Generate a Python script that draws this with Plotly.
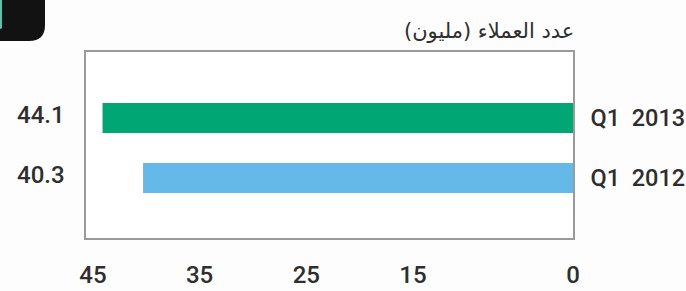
import plotly.graph_objects as go

categories = ["Q1 2012", "Q1 2013"]
customers_millions = [40.3, 44.1]
bar_colors = ["#64b9e8", "#00a674"]
tick_values = [45, 35, 25, 15, 0]
tick_labels = ["45", "35", "25", "15", "0"]
title_text = "عدد العملاء (مليون)"

W, H = 686, 291
ML, MR, MT, MB = 86, 113, 52, 53
TXT = "#2e2e2e"
FONT = "Roboto, Liberation Sans, Arial, sans-serif"

fig = go.Figure()
fig.add_trace(go.Bar(
    y=categories, x=customers_millions, orientation="h",
    marker=dict(color=bar_colors, line=dict(width=0)),
    width=0.5, hoverinfo="skip", showlegend=False,
))

# value labels to the left of the frame
for cat, v in zip(categories, customers_millions):
    fig.add_annotation(
        xref="paper", x=0, yref="y", y=cat, text=f"{v}",
        xanchor="right", yanchor="middle", xshift=-19, yshift=3,
        showarrow=False, font=dict(size=24, color=TXT, family=FONT, weight=500),
    )

fig.add_annotation(
    xref="paper", x=1, yref="paper", y=1, yanchor="middle", xanchor="right",
    yshift=21, xshift=3, text=title_text, showarrow=False,
    font=dict(size=21, color=TXT, family="DejaVu Sans, Noto Sans, sans-serif"),
)

# black rounded tab in the top-left corner
fig.add_shape(
    type="path", xref="paper", yref="paper", xanchor=0, yanchor=1,
    xsizemode="pixel", ysizemode="pixel",
    path="M -100,62 L -41,62 L -41,27 Q -41,11 -57,11 L -100,11 Z",
    fillcolor="#121212", line=dict(width=0), layer="above",
)
fig.add_shape(
    type="path", xref="paper", yref="paper", xanchor=0, yanchor=1,
    xsizemode="pixel", ysizemode="pixel",
    path="M -90,62 L -84,62 L -84,24 Q -86,22 -90,24 Z",
    fillcolor="#5cc2a8", line=dict(width=0), layer="above",
)

fig.update_layout(
    width=W, height=H,
    margin=dict(l=ML, r=MR, t=MT, b=MB, pad=0, autoexpand=False),
    paper_bgcolor="#fdfdfd", plot_bgcolor="#ffffff",
    bargap=0.5,
    xaxis=dict(
        range=[45.65, 0], tickmode="array", tickvals=tick_values, ticktext=tick_labels,
        showgrid=False, zeroline=False, showline=True, mirror=True, automargin=False,
        linecolor="#9a9a9a", linewidth=1.5, ticks="", ticklabelstandoff=14,
        tickfont=dict(size=24, color=TXT, family=FONT, weight=500), fixedrange=True,
    ),
    yaxis=dict(
        type="category", categoryorder="array", categoryarray=categories,
        range=[-1.0, 2.1], side="right", automargin=False,
        tickmode="array", tickvals=categories,
        ticktext=[c.replace(" ", "\u00a0 ") for c in categories],
        showgrid=False, zeroline=False, showline=True, mirror=True,
        linecolor="#9a9a9a", linewidth=1.5, ticks="", ticklabelstandoff=11,
        tickfont=dict(size=23.5, color=TXT, family=FONT, weight=500), fixedrange=True,
    ),
)

fig.write_html(
    "out.html",
    config={"displayModeBar": False},
    post_script="document.body.style.margin='0';document.body.style.overflow='hidden';",
)
